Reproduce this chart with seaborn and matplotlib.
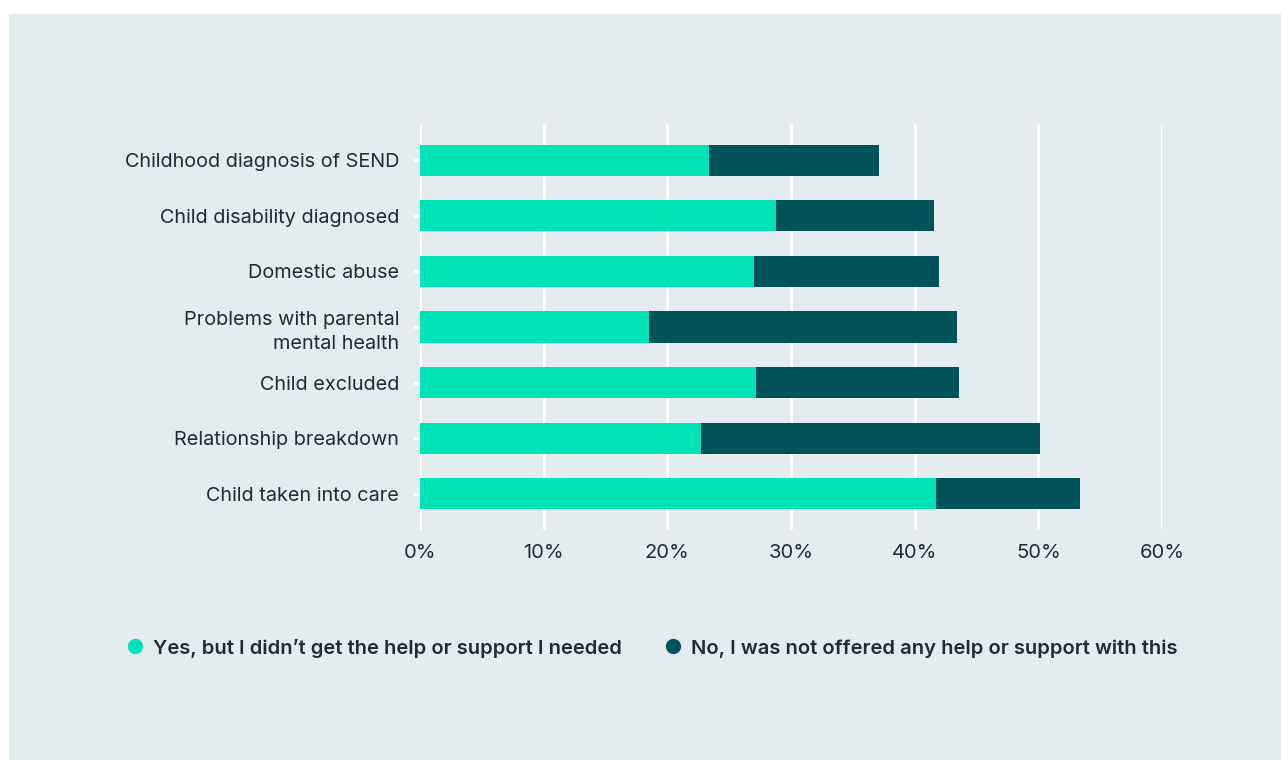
import matplotlib
matplotlib.use("Agg")
import matplotlib.pyplot as plt
import seaborn as sns
import pandas as pd
from matplotlib.patches import Rectangle
from matplotlib.lines import Line2D

categories = ["Childhood diagnosis of SEND", "Child disability diagnosed", "Domestic abuse",
              "Problems with parental\nmental health", "Child excluded",
              "Relationship breakdown", "Child taken into care"]
yes_vals = [23.4, 28.8, 27.0, 18.5, 27.2, 22.7, 41.7]
no_vals = [13.7, 12.8, 15.0, 24.9, 16.4, 27.4, 11.7]
xticks = [0, 10, 20, 30, 40, 50, 60]
series_names = ["Yes, but I didn\u2019t get the help or support I needed",
                "No, I was not offered any help or support with this"]

YES_C = "#00e3b6"
NO_C = "#00525b"
BG = "#e4ecef"
TXT = "#1d2b3a"

sns.set_theme(style="white")
plt.rcParams['font.family'] = ['Inter', 'DejaVu Sans']

df = pd.DataFrame({"cat": categories, "yes": yes_vals, "no": no_vals})
df["total"] = df["yes"] + df["no"]

fig = plt.figure(figsize=(12.81, 7.60), dpi=100, facecolor="white")
fig.patches.append(Rectangle((9/1281, 0), 1 - 9/1281, 1 - 14/760, transform=fig.transFigure,
                             facecolor=BG, edgecolor="none", zorder=-10))

ax = fig.add_axes([420/1281, 1 - 530/760, (1162 - 420)/1281, (530 - 124)/760])
ax.set_facecolor(BG)
ax.patch.set_alpha(0)

sns.barplot(data=df, y="cat", x="total", color=NO_C, orient="h", width=0.56,
            saturation=1, ax=ax, zorder=3, linewidth=0)
sns.barplot(data=df, y="cat", x="yes", color=YES_C, orient="h", width=0.56,
            saturation=1, ax=ax, zorder=4, linewidth=0)

ax.set_xlim(0, 60)
ax.set_ylim(6.65, -0.65)
ax.set_xticks(xticks)
ax.set_xticklabels([f"{t}%" for t in xticks], fontsize=14.5, color=TXT)
ax.tick_params(axis="y", labelsize=14.3, labelcolor=TXT, length=5, width=2, color="white", pad=10, left=True)
ax.tick_params(axis="x", length=0, pad=10)
for lab in ax.get_yticklabels():
    lab.set_linespacing(1.4)
ax.set_xlabel("")
ax.set_ylabel("")
for s in ax.spines.values():
    s.set_visible(False)
ax.grid(axis="x", color="white", linewidth=2, zorder=1)
ax.set_axisbelow(True)

handles = [Line2D([], [], marker="o", linestyle="none", markersize=11, markerfacecolor=YES_C,
                  markeredgecolor="none"),
           Line2D([], [], marker="o", linestyle="none", markersize=11, markerfacecolor=NO_C,
                  markeredgecolor="none")]
leg = fig.legend(handles, series_names, loc="center left", bbox_to_anchor=(105/1281, 1 - 648/760),
                 ncol=2, frameon=False, fontsize=14.5, handletextpad=0.3, columnspacing=1.9,
                 handlelength=1.2)
for t in leg.get_texts():
    t.set_color(TXT)
    t.set_fontweight("semibold")

fig.savefig("out.png", dpi=100, facecolor="white")
